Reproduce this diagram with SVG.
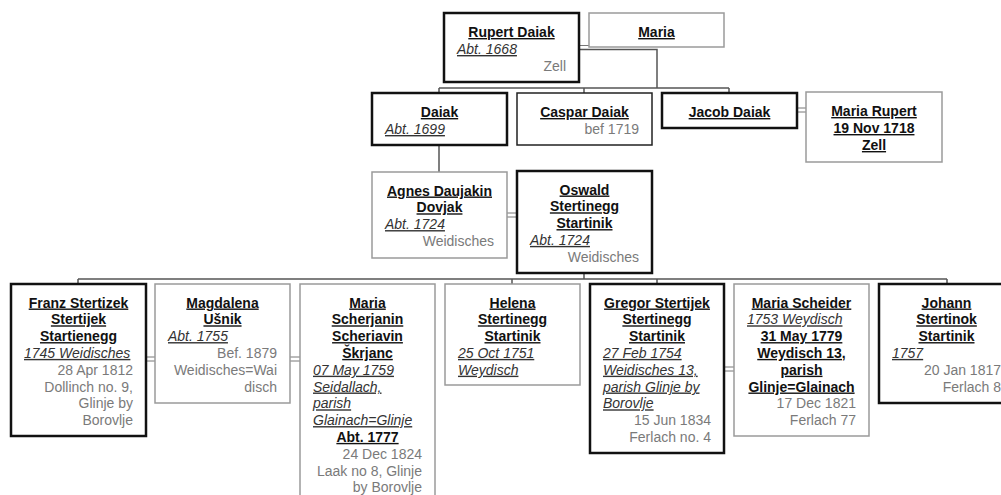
<svg xmlns="http://www.w3.org/2000/svg" width="1001" height="495" viewBox="0 0 1001 495">
<style>
text{font-family:"Liberation Sans",Arial,sans-serif;font-size:14px}
.n{font-weight:bold;text-decoration:underline;text-anchor:middle;fill:#111}
.d{font-style:italic;text-decoration:underline;fill:#333}
.p{fill:#7a7a7a;text-anchor:end}
.m{fill:#fff;stroke:#111;stroke-width:2.5}
.f{fill:#fff;stroke:#9a9a9a;stroke-width:1.5}
.c{fill:#fff;stroke:#222;stroke-width:1.5}
.l{stroke:#555;stroke-width:1.5;fill:none}
.dl{stroke:#777;stroke-width:1;fill:none}
</style>
<g id="connectors">
<path class="dl" d="M579,45.5H589"/>
<path class="l" d="M579,49.5H657V88M439,88H729M439,88V93M584,88V93M729,88V93"/>
<path class="dl" d="M797,108H806M797,112H806"/>
<path class="l" d="M439,145V172"/>
<path class="dl" d="M507,213H517M507,217H517"/>
<path class="l" d="M584,273V279M78,279H947M78,279V284M512,279V284M657,279V284M947,279V284"/>
<path class="dl" d="M146,357H155M146,361H155M290,357H300M290,361H300M724,367H734M724,371H734"/>
</g>
<g id="rupert">
<rect class="m" x="444" y="13" width="135" height="69"/>
<text class="n" x="511.5" y="37">Rupert Daiak</text>
<text class="d" x="457" y="54">Abt. 1668</text>
<text class="p" x="566" y="71">Zell</text>
</g>
<g id="maria">
<rect class="f" x="589" y="13" width="135" height="34"/>
<text class="n" x="656.5" y="37">Maria</text>
</g>
<g id="daiak">
<rect class="m" x="372" y="93" width="135" height="52"/>
<text class="n" x="439.5" y="117">Daiak</text>
<text class="d" x="385" y="134">Abt. 1699</text>
</g>
<g id="caspar">
<rect class="c" x="517" y="93" width="135" height="52"/>
<text class="n" x="584.5" y="117">Caspar Daiak</text>
<text class="p" x="639" y="134">bef 1719</text>
</g>
<g id="jacob">
<rect class="m" x="662" y="93" width="135" height="35"/>
<text class="n" x="729.5" y="117">Jacob Daiak</text>
</g>
<g id="maria-rupert">
<rect class="f" x="806" y="92" width="136" height="70"/>
<text class="n" x="874" y="116">Maria Rupert</text>
<text class="n" x="874" y="133">19 Nov 1718</text>
<text class="n" x="874" y="150">Zell</text>
</g>
<g id="agnes">
<rect class="f" x="372" y="172" width="135" height="86"/>
<text class="n" x="439.5" y="195.5">Agnes Daujakin</text>
<text class="n" x="439.5" y="212.3">Dovjak</text>
<text class="d" x="385" y="229.1">Abt. 1724</text>
<text class="p" x="494" y="245.9">Weidisches</text>
</g>
<g id="oswald">
<rect class="m" x="517" y="171" width="135" height="102"/>
<text class="n" x="584.5" y="194.5">Oswald</text>
<text class="n" x="584.5" y="211.3">Stertinegg</text>
<text class="n" x="584.5" y="228.1">Startinik</text>
<text class="d" x="530" y="244.9">Abt. 1724</text>
<text class="p" x="639" y="261.7">Weidisches</text>
</g>
<g id="franz">
<rect class="m" x="11" y="284" width="135" height="152"/>
<text class="n" x="78.5" y="307.5">Franz Stertizek</text>
<text class="n" x="78.5" y="324.3">Stertijek</text>
<text class="n" x="78.5" y="341.1">Startienegg</text>
<text class="d" x="24" y="357.9">1745 Weidisches</text>
<text class="p" x="133" y="374.7">28 Apr 1812</text>
<text class="p" x="133" y="391.5">Dollinch no. 9,</text>
<text class="p" x="133" y="408.3">Glinje by</text>
<text class="p" x="133" y="425.1">Borovlje</text>
</g>
<g id="magdalena">
<rect class="f" x="155" y="284" width="135" height="119"/>
<text class="n" x="222.5" y="307.5">Magdalena</text>
<text class="n" x="222.5" y="324.3">Ušnik</text>
<text class="d" x="168" y="341.1">Abt. 1755</text>
<text class="p" x="277" y="357.9">Bef. 1879</text>
<text class="p" x="277" y="374.7">Weidisches=Wai</text>
<text class="p" x="277" y="391.5">disch</text>
</g>
<g id="maria-scherjanin">
<rect class="f" x="300" y="284" width="135" height="221"/>
<text class="n" x="367.5" y="307.5">Maria</text>
<text class="n" x="367.5" y="324.3">Scherjanin</text>
<text class="n" x="367.5" y="341.1">Scheriavin</text>
<text class="n" x="367.5" y="357.9">Škrjanc</text>
<text class="d" x="313" y="374.7">07 May 1759</text>
<text class="d" x="313" y="391.5">Seidallach,</text>
<text class="d" x="313" y="408.3">parish</text>
<text class="d" x="313" y="425.1">Glainach=Glinje</text>
<text class="n" x="367.5" y="441.9">Abt. 1777</text>
<text class="p" x="422" y="458.7">24 Dec 1824</text>
<text class="p" x="422" y="475.5">Laak no 8, Glinje</text>
<text class="p" x="422" y="492.3">by Borovlje</text>
</g>
<g id="helena">
<rect class="f" x="445" y="284" width="135" height="101"/>
<text class="n" x="512.5" y="307.5">Helena</text>
<text class="n" x="512.5" y="324.3">Stertinegg</text>
<text class="n" x="512.5" y="341.1">Startinik</text>
<text class="d" x="458" y="357.9">25 Oct 1751</text>
<text class="d" x="458" y="374.7">Weydisch</text>
</g>
<g id="gregor">
<rect class="m" x="590" y="284" width="134" height="169"/>
<text class="n" x="657" y="307.5">Gregor Stertijek</text>
<text class="n" x="657" y="324.3">Stertinegg</text>
<text class="n" x="657" y="341.1">Startinik</text>
<text class="d" x="603" y="357.9">27 Feb 1754</text>
<text class="d" x="603" y="374.7">Weidisches 13,</text>
<text class="d" x="603" y="391.5">parish Glinje by</text>
<text class="d" x="603" y="408.3">Borovlje</text>
<text class="p" x="711" y="425.1">15 Jun 1834</text>
<text class="p" x="711" y="441.9">Ferlach no. 4</text>
</g>
<g id="maria-scheider">
<rect class="f" x="734" y="284" width="135" height="152"/>
<text class="n" x="801.5" y="307.5">Maria Scheider</text>
<text class="d" x="747" y="324.3">1753 Weydisch</text>
<text class="n" x="801.5" y="341.1">31 May 1779</text>
<text class="n" x="801.5" y="357.9">Weydisch 13,</text>
<text class="n" x="801.5" y="374.7">parish</text>
<text class="n" x="801.5" y="391.5">Glinje=Glainach</text>
<text class="p" x="856" y="408.3">17 Dec 1821</text>
<text class="p" x="856" y="425.1">Ferlach 77</text>
</g>
<g id="johann">
<rect class="m" x="879" y="284" width="135" height="119"/>
<text class="n" x="946.5" y="307.5">Johann</text>
<text class="n" x="946.5" y="324.3">Stertinok</text>
<text class="n" x="946.5" y="341.1">Startinik</text>
<text class="d" x="892" y="357.9">1757</text>
<text class="p" x="1001" y="374.7">20 Jan 1817</text>
<text class="p" x="1001" y="391.5">Ferlach 8</text>
</g>
</svg>
